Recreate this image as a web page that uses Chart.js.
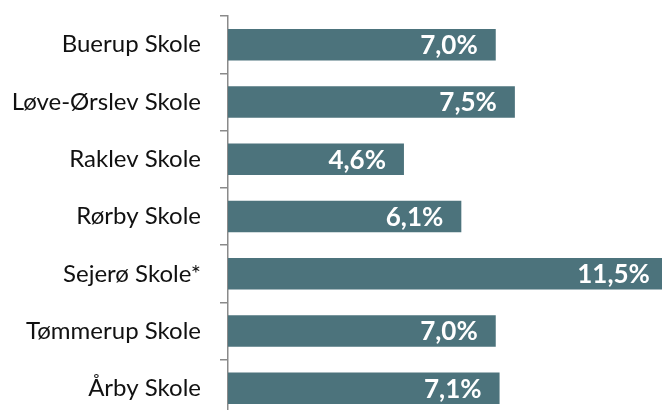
<!DOCTYPE html>
<html>
<head>
<meta charset="utf-8">
<script src="https://cdn.jsdelivr.net/npm/chart.js@4/dist/chart.umd.min.js"></script>
<style>
  html, body { margin: 0; padding: 0; background: #fff; overflow: hidden; }
  #wrap { width: 662px; height: 410px; overflow: hidden; position: relative; }
  #chart { position: absolute; left: 0; top: 0; }
</style>
</head>
<body>
<div id="wrap">
  <canvas id="chart" width="687" height="430"></canvas>
</div>
<script>
// School names (top to bottom)
const schools = [
  'Buerup Skole',
  'Løve-Ørslev Skole',
  'Raklev Skole',
  'Rørby Skole',
  'Sejerø Skole*',
  'Tømmerup Skole',
  'Årby Skole'
];

// Share in percent
const shares = [7.0, 7.5, 4.6, 6.1, 11.5, 7.0, 7.1];

const barColor = '#4C737C';

// Draw the white value labels inside the end of each bar
const valueLabels = {
  id: 'valueLabels',
  afterDatasetsDraw(chart) {
    const ctx = chart.ctx;
    const meta = chart.getDatasetMeta(0);
    ctx.save();
    ctx.fillStyle = '#ffffff';
    ctx.font = 'bold 26px Lato';
    ctx.textAlign = 'right';
    ctx.textBaseline = 'middle';
    meta.data.forEach((bar, i) => {
      const txt = shares[i].toFixed(1).replace('.', ',') + '%';
      ctx.fillText(txt, bar.x - 18, bar.y + 1);
    });
    ctx.restore();
  }
};

new Chart(document.getElementById('chart'), {
  type: 'bar',
  data: {
    labels: schools,
    datasets: [{
      data: shares,
      backgroundColor: barColor,
      borderWidth: 0,
      barPercentage: 0.55,
      categoryPercentage: 1
    }]
  },
  options: {
    indexAxis: 'y',
    responsive: false,
    animation: false,
    devicePixelRatio: 1,
    layout: { padding: { top: 16, bottom: 13, left: 0, right: 0 } },
    plugins: {
      legend: { display: false },
      tooltip: { enabled: false }
    },
    scales: {
      x: {
        display: false,
        min: 0,
        max: 12
      },
      y: {
        afterFit(scale) {
          scale.width = 228;
          scale.paddingTop = 0;
          scale.paddingBottom = 0;
        },
        border: { display: true, color: '#8a8a8a', width: 1.5 },
        grid: {
          offset: true,
          drawOnChartArea: false,
          drawTicks: true,
          tickLength: 8,
          color: '#8a8a8a',
          lineWidth: 1.5
        },
        ticks: {
          color: '#111111',
          padding: 19,
          font: { family: 'Lato', size: 24 }
        }
      }
    }
  },
  plugins: [valueLabels]
});
</script>
</body>
</html>
